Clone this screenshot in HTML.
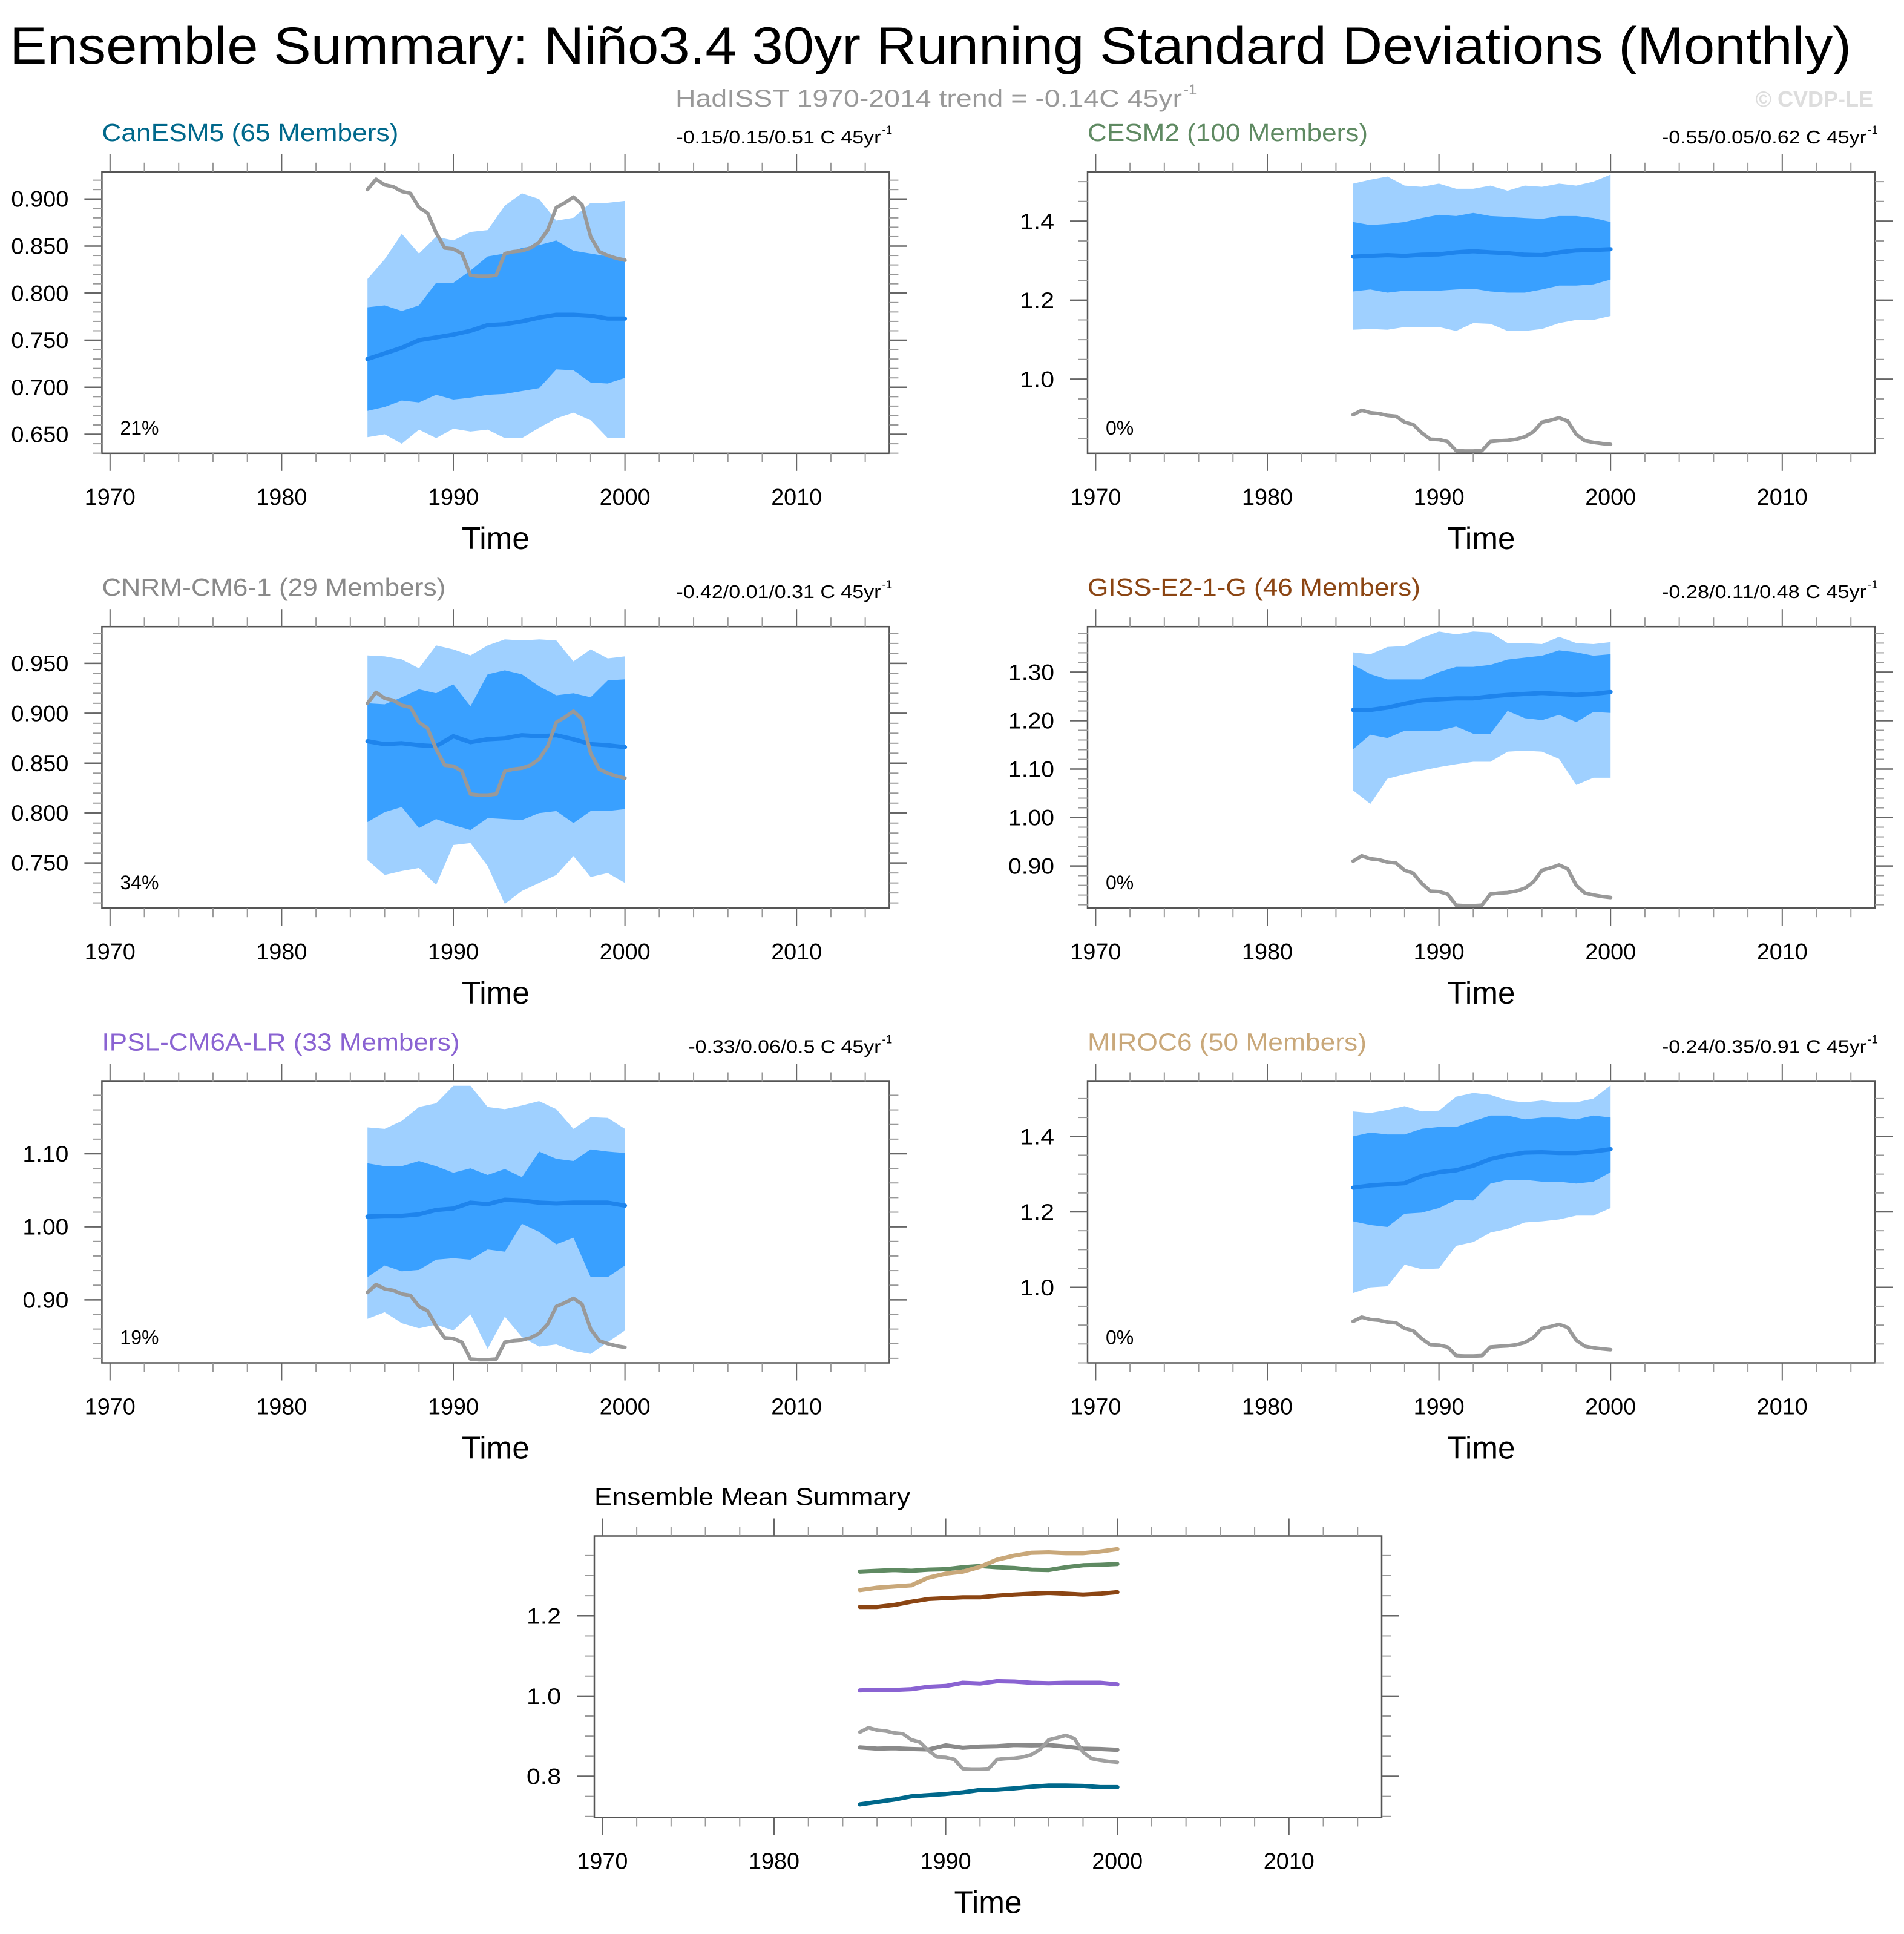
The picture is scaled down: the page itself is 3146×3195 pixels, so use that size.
<!DOCTYPE html>
<html><head><meta charset="utf-8">
<style>
html,body{margin:0;padding:0;background:#fff;}
svg{display:block;font-family:"Liberation Sans",sans-serif;}
</style></head>
<body>
<svg id="chart" xmlns="http://www.w3.org/2000/svg" width="3146" height="3195" viewBox="0 0 3146 3195">
<rect x="0" y="0" width="3146" height="3195" fill="#fff"/>
<text x="16" y="105" font-size="86" fill="#000" textLength="3043" lengthAdjust="spacingAndGlyphs">Ensemble Summary: Niño3.4 30yr Running Standard Deviations (Monthly)</text>
<text x="1116" y="176" font-size="40" fill="#999" textLength="837" lengthAdjust="spacingAndGlyphs">HadISST 1970-2014 trend = -0.14C 45yr</text>
<text x="1956" y="156" font-size="24" fill="#999">-1</text>
<text x="3095" y="176" font-size="36" fill="#ddd" font-weight="bold" text-anchor="end">© CVDP-LE</text>
<g id="panels"></g>
</svg>
<script>
// Shared time axis
const bandYears = [1985,1986,1987,1988,1989,1990,1991,1992,1993,1994,1995,1996,1997,1998,1999,2000];
const obsYears = [1985,1985.5,1986,1986.5,1987,1987.5,1988,1988.5,1989,1989.5,1990,1990.5,1991,1991.5,1992,1992.5,1993,1993.5,1994,1994.5,1995,1995.5,1996,1996.5,1997,1997.5,1998,1998.5,1999,1999.5,2000];
const obsValues = [0.910,0.921,0.915,0.913,0.908,0.906,0.891,0.885,0.864,0.848,0.847,0.842,0.819,0.818,0.818,0.819,0.842,0.844,0.845,0.848,0.854,0.867,0.891,0.896,0.902,0.894,0.860,0.844,0.840,0.837,0.835];
const xTickLabels = ["1970","1980","1990","2000","2010"];

// CanESM5
const canMean = [0.730,0.736,0.742,0.750,0.753,0.756,0.760,0.766,0.767,0.770,0.774,0.777,0.777,0.776,0.773,0.773];
const canOuterTop = [0.815,0.836,0.863,0.842,0.860,0.856,0.865,0.867,0.893,0.906,0.900,0.877,0.880,0.896,0.896,0.898];
const canInnerTop = [0.785,0.787,0.781,0.787,0.811,0.811,0.824,0.839,0.842,0.848,0.851,0.856,0.845,0.842,0.839,0.834];
const canInnerBot = [0.675,0.679,0.686,0.684,0.692,0.687,0.689,0.692,0.693,0.696,0.699,0.719,0.718,0.705,0.704,0.710];
const canOuterBot = [0.647,0.650,0.640,0.655,0.646,0.656,0.653,0.655,0.646,0.646,0.657,0.667,0.673,0.665,0.646,0.646];
const canYTicks = ["0.650","0.700","0.750","0.800","0.850","0.900"];
// CESM2
const cesmMean = [1.310,1.312,1.314,1.312,1.315,1.316,1.321,1.324,1.321,1.319,1.315,1.314,1.321,1.326,1.327,1.329];
const cesmOuterTop = [1.495,1.505,1.513,1.490,1.487,1.495,1.482,1.482,1.490,1.477,1.490,1.487,1.495,1.490,1.500,1.518];
const cesmInnerTop = [1.398,1.390,1.393,1.398,1.408,1.416,1.413,1.421,1.413,1.411,1.408,1.406,1.413,1.413,1.408,1.398];
const cesmInnerBot = [1.222,1.227,1.219,1.224,1.224,1.224,1.227,1.229,1.222,1.219,1.219,1.227,1.237,1.237,1.240,1.252];
const cesmOuterBot = [1.125,1.127,1.125,1.132,1.132,1.132,1.122,1.142,1.140,1.122,1.122,1.127,1.142,1.150,1.150,1.160];
const cesmYTicks = ["1.0","1.2","1.4"];
// CNRM-CM6-1
const cnrmMean = [0.872,0.869,0.870,0.868,0.867,0.877,0.871,0.874,0.875,0.878,0.877,0.878,0.874,0.869,0.868,0.866];
const cnrmOuterTop = [0.958,0.957,0.954,0.945,0.968,0.964,0.958,0.968,0.974,0.973,0.974,0.973,0.952,0.964,0.955,0.957];
const cnrmInnerTop = [0.910,0.909,0.916,0.924,0.920,0.929,0.907,0.939,0.943,0.939,0.927,0.918,0.920,0.916,0.933,0.934];
const cnrmInnerBot = [0.791,0.801,0.806,0.785,0.794,0.788,0.783,0.795,0.794,0.793,0.800,0.802,0.790,0.802,0.802,0.804];
const cnrmOuterBot = [0.753,0.738,0.742,0.745,0.728,0.768,0.770,0.747,0.709,0.722,0.730,0.738,0.757,0.736,0.740,0.730];
const cnrmYTicks = ["0.750","0.800","0.850","0.900","0.950"];
// GISS-E2-1-G
const gissMean = [1.222,1.222,1.227,1.235,1.242,1.244,1.246,1.246,1.250,1.253,1.255,1.257,1.255,1.253,1.255,1.259];
const gissOuterTop = [1.341,1.337,1.352,1.354,1.371,1.384,1.378,1.384,1.382,1.360,1.360,1.358,1.373,1.360,1.358,1.362];
const gissInnerTop = [1.315,1.296,1.285,1.285,1.285,1.300,1.311,1.311,1.315,1.326,1.330,1.334,1.345,1.341,1.334,1.337];
const gissInnerBot = [1.141,1.171,1.164,1.179,1.179,1.179,1.188,1.173,1.173,1.220,1.205,1.201,1.212,1.197,1.218,1.216];
const gissOuterBot = [1.056,1.028,1.080,1.089,1.097,1.104,1.110,1.115,1.115,1.136,1.138,1.136,1.121,1.067,1.082,1.082];
const gissYTicks = ["0.90","1.00","1.10","1.20","1.30"];
// IPSL-CM6A-LR
const ipslMean = [1.014,1.015,1.015,1.017,1.023,1.025,1.033,1.031,1.037,1.036,1.033,1.032,1.033,1.033,1.033,1.029];
const ipslOuterTop = [1.136,1.134,1.145,1.164,1.169,1.193,1.193,1.164,1.161,1.166,1.172,1.161,1.134,1.150,1.149,1.134];
const ipslInnerTop = [1.087,1.083,1.083,1.090,1.083,1.074,1.080,1.071,1.079,1.068,1.103,1.093,1.090,1.106,1.103,1.101];
const ipslInnerBot = [0.931,0.947,0.939,0.941,0.955,0.957,0.955,0.969,0.966,1.004,0.993,0.976,0.985,0.931,0.931,0.947];
const ipslOuterBot = [0.874,0.883,0.868,0.861,0.866,0.858,0.880,0.833,0.877,0.849,0.836,0.839,0.830,0.826,0.842,0.858];
const ipslYTicks = ["0.90","1.00","1.10"];
// MIROC6
const mirocMean = [1.264,1.270,1.273,1.276,1.295,1.305,1.310,1.322,1.340,1.350,1.357,1.358,1.356,1.356,1.360,1.366];
const mirocOuterTop = [1.466,1.462,1.470,1.480,1.466,1.468,1.505,1.515,1.510,1.495,1.490,1.495,1.490,1.490,1.500,1.535];
const mirocInnerTop = [1.400,1.410,1.405,1.405,1.420,1.425,1.425,1.440,1.455,1.455,1.445,1.450,1.450,1.445,1.455,1.450];
const mirocInnerBot = [1.175,1.165,1.160,1.195,1.198,1.210,1.232,1.230,1.275,1.285,1.285,1.280,1.280,1.275,1.280,1.305];
const mirocOuterBot = [0.985,1.000,1.003,1.060,1.048,1.050,1.110,1.120,1.145,1.155,1.172,1.175,1.180,1.190,1.190,1.210];
const mirocYTicks = ["1.0","1.2","1.4"];
const summaryYTicks = ["0.8","1.0","1.2"];

const NS = "http://www.w3.org/2000/svg";
const root = document.getElementById('panels');
const BOXW = 1301, BOXH = 465;
function mk(tag, attrs, parent) {
  const e = document.createElementNS(NS, tag);
  for (const k in attrs) e.setAttribute(k, attrs[k]);
  (parent || root).appendChild(e);
  return e;
}
function xScale(L) { return yr => L + 13.4 + (yr - 1970) * 28.36; }
function yScale(T, vTop, vBot) { return v => T + (vTop - v) / (vTop - vBot) * BOXH; }

function drawAxes(g, L, T, sx, sy, vTop, vBot, yLabels, yMinorStep) {
  const box = mk('rect', {x:L, y:T, width:BOXW, height:BOXH, fill:'none', stroke:'#555', 'stroke-width':2.5}, g);
  
  
  for (let yr = 1970; yr <= 2015; yr += 2) {
    const major = (yr % 10 === 0);
    const x = sx(yr), len = major ? 29 : 15;
    const t1 = mk('line', {x1:x, x2:x, y1:T, y2:T - len, stroke:major ? '#666' : '#999', 'stroke-width':2}, g);
    
    
    const t2 = mk('line', {x1:x, x2:x, y1:T + BOXH, y2:T + BOXH + len, stroke:major ? '#666' : '#999', 'stroke-width':2}, g);
    
    
  }
  xTickLabels.forEach(lab => {
    const t = mk('text', {x:sx(+lab), y:T + BOXH + 85, 'font-size':38, 'text-anchor':'middle', fill:'#000', textLength:84, lengthAdjust:'spacingAndGlyphs'}, g);
    t.textContent = lab;
    
    
  });
  const xt = mk('text', {x:L + BOXW / 2, y:T + BOXH + 158, 'font-size':52, 'text-anchor':'middle', fill:'#000', textLength:112, lengthAdjust:'spacingAndGlyphs'}, g);
  xt.textContent = 'Time';
  
  
  const start = Math.ceil(vBot / yMinorStep - 1e-6);
  for (let i = start; i * yMinorStep <= vTop + 1e-9; i++) {
    const v = i * yMinorStep, y = sy(v);
    const a = mk('line', {x1:L, x2:L - 15, y1:y, y2:y, stroke:'#999', 'stroke-width':2}, g);
    
    
    const b = mk('line', {x1:L + BOXW, x2:L + BOXW + 15, y1:y, y2:y, stroke:'#999', 'stroke-width':2}, g);
    
    
  }
  yLabels.forEach(lab => {
    const y = sy(+lab);
    const a = mk('line', {x1:L, x2:L - 29, y1:y, y2:y, stroke:'#666', 'stroke-width':2.5}, g);
    
    
    const b = mk('line', {x1:L + BOXW, x2:L + BOXW + 29, y1:y, y2:y, stroke:'#666', 'stroke-width':2.5}, g);
    
    
    const t = mk('text', {x:L - 55, y:y + 13, 'font-size':37, 'text-anchor':'end', fill:'#000', textLength:lab.length * 19, lengthAdjust:'spacingAndGlyphs'}, g);
    t.textContent = lab;
    
    
  });
}
function linePath(xs, vs, sx, sy) {
  return xs.map((x, i) => (i ? 'L' : 'M') + sx(x).toFixed(1) + ',' + sy(vs[i]).toFixed(1)).join(' ');
}
function bandPath(top, bot, sx, sy) {
  let d = linePath(bandYears, top, sx, sy);
  for (let i = bandYears.length - 1; i >= 0; i--) d += ' L' + sx(bandYears[i]).toFixed(1) + ',' + sy(bot[i]).toFixed(1);
  return d + ' Z';
}
function drawTitle(g, L, T, name, color, len, rightText, rightLen) {
  const t = mk('text', {x:L, y:T - 51, 'font-size':41, fill:color, textLength:len, lengthAdjust:'spacingAndGlyphs'}, g);
  t.textContent = name;
  
  
  if (rightText) {
    const r = mk('text', {x:L + BOXW - 14 - rightLen, y:T - 47, 'font-size':31, fill:'#000', textLength:rightLen, lengthAdjust:'spacingAndGlyphs'}, g);
    r.textContent = rightText + ' C 45yr';
    
    
    const s = mk('text', {x:L + BOXW - 12, y:T - 63, 'font-size':19, fill:'#000'}, g);
    s.textContent = '-1';
    
    
  }
}

const panels = [
  {name:'CanESM5 (65 Members)', color:'#00688b', len:490, right:'-0.15/0.15/0.51', rlen:338, pct:'21%', L:168.4, T:283.8, vTop:0.9289, vBot:0.6299, minor:0.01, ticks:canYTicks, mean:canMean, ot:canOuterTop, it:canInnerTop, ib:canInnerBot, ob:canOuterBot},
  {name:'CESM2 (100 Members)', color:'#5f8a62', len:463, right:'-0.55/0.05/0.62', rlen:338, pct:'0%', L:1797, T:283.8, vTop:1.525, vBot:0.8124, minor:0.05, ticks:cesmYTicks, mean:cesmMean, ot:cesmOuterTop, it:cesmInnerTop, ib:cesmInnerBot, ob:cesmOuterBot},
  {name:'CNRM-CM6-1 (29 Members)', color:'#8a8a8a', len:568, right:'-0.42/0.01/0.31', rlen:338, pct:'34%', L:168.4, T:1035.2, vTop:0.9868, vBot:0.7048, minor:0.01, ticks:cnrmYTicks, mean:cnrmMean, ot:cnrmOuterTop, it:cnrmInnerTop, ib:cnrmInnerBot, ob:cnrmOuterBot},
  {name:'GISS-E2-1-G (46 Members)', color:'#8b4513', len:550, right:'-0.28/0.11/0.48', rlen:338, pct:'0%', L:1797, T:1035.2, vTop:1.394, vBot:0.813, minor:0.02, ticks:gissYTicks, mean:gissMean, ot:gissOuterTop, it:gissInnerTop, ib:gissInnerBot, ob:gissOuterBot},
  {name:'IPSL-CM6A-LR (33 Members)', color:'#8a63d2', len:591, right:'-0.33/0.06/0.5', rlen:318, pct:'19%', L:168.4, T:1786.5, vTop:1.199, vBot:0.8137, minor:0.02, ticks:ipslYTicks, mean:ipslMean, ot:ipslOuterTop, it:ipslInnerTop, ib:ipslInnerBot, ob:ipslOuterBot},
  {name:'MIROC6 (50 Members)', color:'#c9a87a', len:461, right:'-0.24/0.35/0.91', rlen:338, pct:'0%', L:1797, T:1786.5, vTop:1.5455, vBot:0.80, minor:0.05, ticks:mirocYTicks, mean:mirocMean, ot:mirocOuterTop, it:mirocInnerTop, ib:mirocInnerBot, ob:mirocOuterBot}
];

panels.forEach(p => {
  const g = mk('g', {});
  
  
  const sx = xScale(p.L), sy = yScale(p.T, p.vTop, p.vBot);
  const clipId = 'clip' + Math.round(p.L) + Math.round(p.T);
  const cp = mk('clipPath', {id:clipId}, g);
  mk('rect', {x:p.L, y:p.T, width:BOXW, height:BOXH}, cp);
  const dg = mk('g', {'clip-path':'url(#' + clipId + ')'}, g);
  const b1 = mk('path', {d:bandPath(p.ot, p.ob, sx, sy), fill:'#9fd0ff'}, dg);
  
  
  const b2 = mk('path', {d:bandPath(p.it, p.ib, sx, sy), fill:'#39a0ff'}, dg);
  
  
  const m = mk('path', {d:linePath(bandYears, p.mean, sx, sy), fill:'none', stroke:'#1e84ec', 'stroke-width':7, 'stroke-linejoin':'round', 'stroke-linecap':'round'}, dg);
  
  
  const o = mk('path', {d:linePath(obsYears, obsValues, sx, sy), fill:'none', stroke:'#999', 'stroke-width':6, 'stroke-linejoin':'round', 'stroke-linecap':'round'}, dg);
  
  
  drawAxes(g, p.L, p.T, sx, sy, p.vTop, p.vBot, p.ticks, p.minor);
  drawTitle(g, p.L, p.T, p.name, p.color, p.len, p.right, p.rlen);
  const pc = mk('text', {x:p.L + 30, y:p.T + BOXH - 31, 'font-size':32, fill:'#000'}, g);
  pc.textContent = p.pct;
  
  
});

// Ensemble mean summary panel
(function(){
  const L = 982, T = 2537.5, vTop = 1.3988, vBot = 0.6974;
  const g = mk('g', {});
  
  
  const sx = xScale(L), sy = yScale(T, vTop, vBot);
  panels.forEach(p => {
    const l = mk('path', {d:linePath(bandYears, p.mean, sx, sy), fill:'none', stroke:p.color, 'stroke-width':7, 'stroke-linejoin':'round', 'stroke-linecap':'round'}, g);
    
    
  });
  const o = mk('path', {d:linePath(obsYears, obsValues, sx, sy), fill:'none', stroke:'#a0a0a0', 'stroke-width':6, 'stroke-linejoin':'round', 'stroke-linecap':'round'}, g);
  
  
  drawAxes(g, L, T, sx, sy, vTop, vBot, summaryYTicks, 0.05);
  drawTitle(g, L, T, 'Ensemble Mean Summary', '#000', 522, null, 0);
})();
</script>
</body></html>
